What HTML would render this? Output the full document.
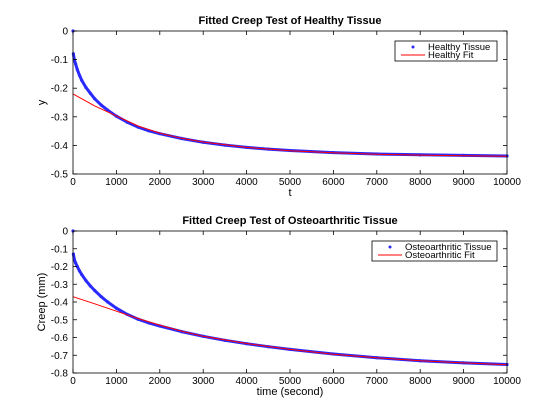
<!DOCTYPE html>
<html><head><meta charset="utf-8"><style>
body{margin:0;background:#fff;}
svg{display:block;font-family:"Liberation Sans",sans-serif;}
</style></head><body>
<svg id="c" width="560" height="420" viewBox="0 0 560 420"></svg>
<script>
const xTicks=[0,1000,2000,3000,4000,5000,6000,7000,8000,9000,10000];
const hYTicks=[0,-0.1,-0.2,-0.3,-0.4,-0.5];
const oYTicks=[0,-0.1,-0.2,-0.3,-0.4,-0.5,-0.6,-0.7,-0.8];
const hDataT=[0,10,30,60,100,150,200,300,400,500,650,800,1000,1250,1500,1750,2000,2500,3000,3500,4000,4500,5000,6000,7000,8000,9000,10000];
const hDataY=[0,-0.08,-0.1,-0.115,-0.135,-0.155,-0.172,-0.198,-0.218,-0.237,-0.259,-0.277,-0.298,-0.319,-0.336,-0.349,-0.359,-0.376,-0.389,-0.399,-0.407,-0.413,-0.418,-0.425,-0.43,-0.433,-0.435,-0.437];
const hFitT=[0,500,1000,1500,2000,2500,3000,4000,5000,6000,7000,8000,9000,10000];
const hFitY=[-0.22,-0.262,-0.297,-0.332,-0.357,-0.375,-0.388,-0.407,-0.419,-0.426,-0.431,-0.434,-0.436,-0.438];
const oDataT=[0,10,30,60,100,150,200,300,400,500,650,800,1000,1250,1500,1750,2000,2500,3000,3500,4000,4500,5000,6000,7000,8000,9000,10000];
const oDataY=[0,-0.13,-0.16,-0.18,-0.2,-0.225,-0.245,-0.28,-0.31,-0.335,-0.37,-0.4,-0.435,-0.47,-0.497,-0.518,-0.535,-0.567,-0.593,-0.616,-0.635,-0.652,-0.667,-0.693,-0.714,-0.731,-0.743,-0.752];
const oFitT=[0,500,1000,1500,2000,2500,3000,4000,5000,6000,7000,8000,9000,10000];
const oFitY=[-0.37,-0.41,-0.452,-0.493,-0.53,-0.564,-0.593,-0.634,-0.667,-0.694,-0.714,-0.731,-0.743,-0.753];

const svg=document.getElementById('c');
const NS='http://www.w3.org/2000/svg';
function mk(tag,attrs,parent,text){const e=document.createElementNS(NS,tag);for(const k in attrs)e.setAttribute(k,attrs[k]);if(text!==undefined)e.textContent=text;(parent||svg).appendChild(e);return e;}

function panel(cfg){
  const g=mk('g',{});
  
  
  const L=73,R=507,T=cfg.top,B=cfg.bottom;
  const xs=v=>L+(v-0)/10000*(R-L);
  const ys=v=>T+(0-v)/(0-cfg.ymin)*(B-T);
  const dp=cfg.dT.slice(1).map((t,i)=>xs(t).toFixed(1)+','+ys(cfg.dY[i+1]).toFixed(1)).join(' ');
  const dl=mk('polyline',{points:dp,fill:'none',stroke:'#2a2aff','stroke-width':3,'stroke-linejoin':'round','stroke-linecap':'round'},g);
  
  
  cfg.dT.forEach((t,i)=>{
    const c=mk('circle',{cx:xs(t),cy:ys(cfg.dY[i]),r:1.6,fill:'#2a2aff'},g);
    
    
  });
  const fp=cfg.fT.map((t,i)=>xs(t).toFixed(1)+','+ys(cfg.fY[i]).toFixed(1)).join(' ');
  const fl=mk('polyline',{points:fp,fill:'none',stroke:'#ff0000','stroke-width':1},g);
  
  
  const box=mk('rect',{x:L,y:T,width:R-L,height:B-T,fill:'none',stroke:'#000','stroke-width':0.8},g);
  
  
  xTicks.forEach(v=>{
    const x=xs(v);
    mk('line',{x1:x,y1:B,x2:x,y2:B-4,stroke:'#000','stroke-width':0.8},g);
    mk('line',{x1:x,y1:T,x2:x,y2:T+4,stroke:'#000','stroke-width':0.8},g);
    const t=mk('text',{x:x,y:B+11,'font-size':10,'text-anchor':'middle'},g,String(v));
    
    
  });
  cfg.yT.forEach(v=>{
    const y=ys(v);
    mk('line',{x1:L,y1:y,x2:L+4,y2:y,stroke:'#000','stroke-width':0.8},g);
    mk('line',{x1:R,y1:y,x2:R-4,y2:y,stroke:'#000','stroke-width':0.8},g);
    const t=mk('text',{x:L-5,y:y+3.5,'font-size':10,'text-anchor':'end'},g,String(v));
    
    
  });
  const ti=mk('text',{x:(L+R)/2,y:T-7,'font-size':11,'font-weight':'bold','text-anchor':'middle'},g,cfg.title);
  
  
  const xl=mk('text',{x:(L+R)/2,y:B+22,'font-size':11,'text-anchor':'middle'},g,cfg.xlabel);
  
  
  const yl=mk('text',{x:0,y:0,'font-size':11,'text-anchor':'middle',transform:'translate(45,'+((T+B)/2)+') rotate(-90)'},g,cfg.ylabel);
  
  
  const lg=mk('g',{},g);
  
  
  const lx=cfg.legX,ly=cfg.legY,lw=497-cfg.legX;
  mk('rect',{x:lx,y:ly,width:lw,height:20,fill:'#fff',stroke:'#000','stroke-width':0.8},lg);
  mk('circle',{cx:lx+cfg.legSym,cy:ly+6,r:1.5,fill:'#2a2aff'},lg);
  mk('line',{x1:lx+cfg.legSym-12,y1:ly+14,x2:lx+cfg.legSym+12,y2:ly+14,stroke:'#ff0000','stroke-width':1},lg);
  const e1=mk('text',{x:lx+cfg.legSym+15,y:ly+9,'font-size':9.5},lg,cfg.leg1);
  
  
  const e2=mk('text',{x:lx+cfg.legSym+15,y:ly+17,'font-size':9.5},lg,cfg.leg2);
  
  
}
panel({name:'healthy-panel',key:'healthy',top:31,bottom:174,ymin:-0.5,yT:hYTicks,dT:hDataT,dY:hDataY,fT:hFitT,fY:hFitY,
  title:'Fitted Creep Test of Healthy Tissue',xlabel:'t',ylabel:'y',legX:395,legY:41,legSym:18,leg1:'Healthy Tissue',leg2:'Healthy Fit'});
panel({name:'osteoarthritic-panel',key:'osteo',top:231,bottom:373,ymin:-0.8,yT:oYTicks,dT:oDataT,dY:oDataY,fT:oFitT,fY:oFitY,
  title:'Fitted Creep Test of Osteoarthritic Tissue',xlabel:'time (second)',ylabel:'Creep (mm)',legX:372,legY:241,legSym:18,leg1:'Osteoarthritic Tissue',leg2:'Osteoarthritic Fit'});
</script>
</body></html>
